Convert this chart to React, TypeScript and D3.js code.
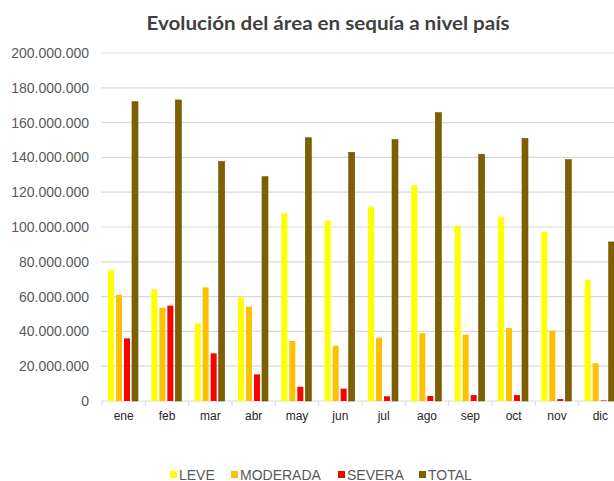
import React from "react";
import * as d3 from "d3";

const months = ["ene", "feb", "mar", "abr", "may", "jun", "jul", "ago", "sep", "oct", "nov", "dic"];
const leve = [75.3, 64.2, 44.6, 59.6, 107.9, 103.6, 111.5, 124.0, 100.6, 105.7, 97.3, 69.5].map((v) => v * 1e6);
const moderada = [61.0, 53.6, 65.3, 54.2, 34.5, 31.8, 36.4, 38.9, 38.1, 42.0, 40.4, 21.7].map((v) => v * 1e6);
const severa = [36.0, 54.8, 27.4, 15.3, 8.2, 7.1, 2.7, 2.9, 3.4, 3.4, 1.1, 0.3].map((v) => v * 1e6);
const total = [172.0, 173.0, 137.7, 128.9, 151.3, 142.9, 150.2, 165.7, 141.8, 151.0, 138.7, 91.4].map((v) => v * 1e6);
const seriesNames = ["LEVE", "MODERADA", "SEVERA", "TOTAL"];
const seriesValues = [leve, moderada, severa, total];
const seriesColors = ["#FFFF00", "#FFC000", "#FF0000", "#7F6000"];
const yTicks = [0, 20e6, 40e6, 60e6, 80e6, 100e6, 120e6, 140e6, 160e6, 180e6, 200e6];

const W = 614;
const H = 481;

const fmt = (v: number) => (v === 0 ? "0" : d3.format(",")(v).replace(/,/g, "."));

export default function App() {
  const x = d3.scaleBand<string>().domain(months).range([102, 622]).padding(0);
  const inner = d3.scaleBand<string>().domain(seriesNames).range([6, 36]).paddingInner(0.25).paddingOuter(0);
  const y = d3.scaleLinear().domain([0, 200e6]).range([401, 53]);

  const legendX = [170, 231, 338, 419];

  return (
    <svg width={W} height={H} style={{ position: "absolute", left: 0, top: 0, background: "#fff" }}>
      <text
        x={328}
        y={30}
        textAnchor="middle"
        fontFamily="Lato, 'Open Sans', sans-serif"
        fontWeight="bold"
        fontSize={19}
        fill="#404040"
        textLength={363}
        lengthAdjust="spacingAndGlyphs"
      >
        Evolución del área en sequía a nivel país
      </text>
      {yTicks.map((t) => (
        <g key={t}>
          <line x1={101} x2={W} y1={y(t)} y2={y(t)} stroke="#d9d9d9" strokeWidth={1.2} />
          <text
            x={89}
            y={y(t)}
            dy="0.35em"
            textAnchor="end"
            fontFamily="'Liberation Sans', Arial, sans-serif"
            fontSize={14}
            fill="#595959"
          >
            {fmt(t)}
          </text>
        </g>
      ))}
      {months.map((m) => (
        <line key={"tk" + m} x1={x(m)!} x2={x(m)!} y1={401} y2={406} stroke="#d9d9d9" strokeWidth={1} />
      ))}
      {months.map((m, i) => (
        <g key={m} transform={`translate(${x(m)},0)`}>
          {seriesNames.map((s, j) => {
            const v = seriesValues[j][i];
            return (
              <rect
                key={s}
                x={inner(s)!}
                width={inner.bandwidth()}
                y={y(v)}
                height={y(0) - y(v)}
                fill={seriesColors[j]}
                stroke={j === 3 ? "#6b5000" : "none"}
                strokeWidth={0.6}
              />
            );
          })}
          <text
            x={x.bandwidth() / 2}
            y={420}
            textAnchor="middle"
            fontFamily="'Liberation Sans', Arial, sans-serif"
            fontSize={12}
            fill="#262626"
          >
            {m}
          </text>
        </g>
      ))}
      {seriesNames.map((s, j) => (
        <g key={"lg" + s}>
          <rect x={legendX[j]} y={471} width={7} height={7} fill={seriesColors[j]} />
          <text
            x={legendX[j] + 9}
            y={479.5}
            fontFamily="'Liberation Sans', Arial, sans-serif"
            fontSize={14}
            fill="#595959"
          >
            {s}
          </text>
        </g>
      ))}
    </svg>
  );
}
